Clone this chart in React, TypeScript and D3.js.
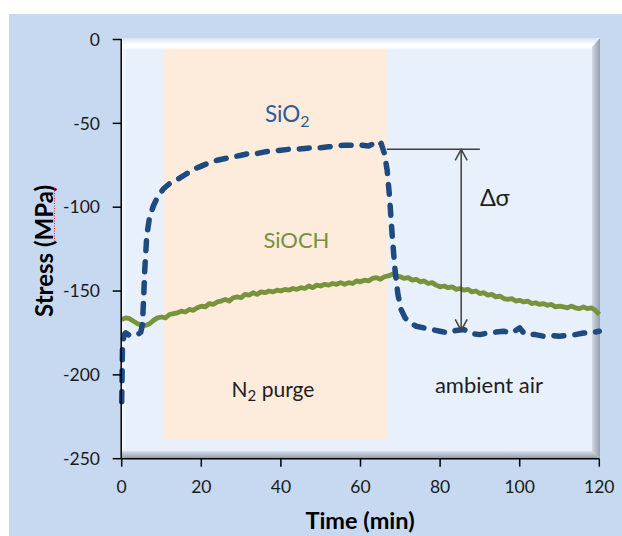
import React from "react";
import * as d3 from "d3";

const X_TICKS = [0, 20, 40, 60, 80, 100, 120];
const Y_TICKS = [0, -50, -100, -150, -200, -250];

// SiO2 (dashed blue): [time (min), stress (MPa)]
const SIO2: [number, number][] = [
  [0, -216], [0.2, -182], [0.6, -176], [1, -175], [2, -176.5], [3, -176.5], [4, -176], [4.8, -174.5],
  [5.2, -170], [5.5, -155], [5.8, -137], [6.3, -117], [7, -106], [8, -99], [9, -94], [10.5, -89],
  [12, -86], [14, -83.5], [16, -80.5], [18, -77.5], [20, -75.5], [22, -73.5], [24, -72], [26, -71],
  [28, -70], [30, -69], [32, -68], [34, -68], [36, -67], [38, -66.5], [40, -66], [42, -65.5],
  [44, -65.5], [46, -65], [48, -64.5], [50, -64.5], [52, -64], [54, -63.5], [56, -63], [58, -63],
  [60, -63], [62, -63.5], [63.4, -62], [64.4, -63.5], [65.2, -62], [66, -68], [66.7, -78], [67.3, -94],
  [68, -118], [68.7, -138], [69.4, -152], [70.2, -161], [71.2, -166], [72.5, -169], [74, -171], [76, -172],
  [78, -173], [80, -174], [82, -175], [84, -173.5], [86, -173], [88, -175.5], [90, -176], [92, -175],
  [94, -174.5], [96, -174], [98, -175], [100, -172], [101, -175], [102, -176], [104, -176], [106, -177],
  [108, -176.5], [110, -177], [112, -176.5], [114, -176], [116, -175], [118, -175], [120, -174],
];

// SiOCH (solid green): [time (min), stress (MPa)]
const SIOCH: [number, number][] = [
  [0, -167], [1, -166], [2, -166.5], [3, -168], [4, -169.5], [5, -170.5], [6, -170.5], [7, -169.5],
  [8, -167.5], [9, -166], [10, -165.5], [11, -166], [12, -164], [13, -163.5], [14, -163], [15, -162],
  [16, -162.5], [17, -161], [18, -161.5], [19, -160], [20, -159], [21, -159.5], [22, -157.5], [23, -158],
  [24, -156.5], [25, -156], [26, -155], [27, -156], [28, -154], [29, -153.5], [30, -154], [31, -152],
  [32, -152.5], [33, -151], [34, -152], [35, -150.5], [36, -151], [37, -150], [38, -150.5], [39, -149.5],
  [40, -150], [41, -149], [42, -149.5], [43, -148.5], [44, -149], [45, -148], [46, -148.5], [47, -147],
  [48, -148], [49, -146.5], [50, -147], [51, -146], [52, -146.5], [53, -145.5], [54, -146], [55, -145],
  [56, -146], [57, -145], [58, -145.5], [59, -144], [60, -144.5], [61, -143.5], [62, -144], [63, -142.5],
  [64, -142], [65, -143], [66, -141.5], [67, -141], [68, -140], [69, -141], [70, -141.5], [71, -142.5],
  [72, -142], [73, -143.5], [74, -143], [75, -144.5], [76, -144], [77, -145.5], [78, -145], [79, -146.5],
  [80, -147.5], [81, -147], [82, -148], [83, -147.5], [84, -149], [85, -148.5], [86, -149.5], [87, -149],
  [88, -150.5], [89, -150], [90, -151.5], [91, -151], [92, -152.5], [93, -152], [94, -153.5], [95, -153],
  [96, -154.5], [97, -155], [98, -154.5], [99, -156], [100, -155.5], [101, -156.5], [102, -156], [103, -157.5],
  [104, -157], [105, -158], [106, -157.5], [107, -158.5], [108, -158], [109, -159.5], [110, -159], [111, -159.5],
  [112, -160], [113, -159], [114, -160], [115, -160.5], [116, -159.5], [117, -160.5], [118, -160], [119, -161.5],
  [120, -164],
];

// N2 purge window (min) and its vertical extent (MPa)
const PURGE_START = 10.5;
const PURGE_END = 66.7;
const PURGE_TOP = 0;
const PURGE_BOTTOM = -239;

// Δσ annotation
const DELTA_TOP = -65.5;
const DELTA_BOTTOM = -173.5;
const DELTA_X = 85.3;
const DELTA_LINE_FROM = 66.6;
const DELTA_LINE_TO = 90;

const FONT = "Lato, 'Open Sans', sans-serif";

export default function App() {
  const W = 622;
  const H = 536;
  const x = d3.scaleLinear().domain([0, 120]).range([121.7, 599.3]);
  const y = d3.scaleLinear().domain([-250, 0]).range([458.7, 39.5]);

  const line = d3
    .line<[number, number]>()
    .x((d) => x(d[0]))
    .y((d) => y(d[1]))
    .curve(d3.curveLinear);

  const pL = 121, pT = 38, pR = 600, pB = 458.7;

  const ax = x(DELTA_X);
  const aT = y(DELTA_TOP);
  const aB = y(DELTA_BOTTOM);

  return (
    <svg
      width={W}
      height={H}
      viewBox={`0 0 ${W} ${H}`}
      style={{ position: "absolute", left: 0, top: 0, display: "block" }}
    >
      <defs>
        <linearGradient id="topBevel" x1="0" y1="0" x2="0" y2="1">
          <stop offset="0" stopColor="#d8e4f5" stopOpacity="1" />
          <stop offset="0.55" stopColor="#ffffff" stopOpacity="1" />
          <stop offset="0.8" stopColor="#ffffff" stopOpacity="0.9" />
          <stop offset="1" stopColor="#ffffff" stopOpacity="0" />
        </linearGradient>
        <linearGradient id="rightBevel" x1="0" y1="0" x2="1" y2="0">
          <stop offset="0" stopColor="#d2dae6" />
          <stop offset="0.5" stopColor="#b3bbc8" />
          <stop offset="1" stopColor="#959eac" />
        </linearGradient>
        <linearGradient id="bottomBevel" x1="0" y1="0" x2="0" y2="1">
          <stop offset="0" stopColor="#dbe3ee" />
          <stop offset="0.5" stopColor="#b5bdc9" />
          <stop offset="1" stopColor="#8e97a5" />
        </linearGradient>
      </defs>

      {/* outer chart background */}
      <rect x={9} y={14} width={W - 9} height={H - 14} fill="#c6d9f1" />

      {/* plot area */}
      <rect x={pL} y={pT} width={pR - pL} height={pB - pT} fill="#e8f0fc" />
      <rect x={pL + 1} y={pT} width={4} height={pB - pT} fill="#f0f5fd" />

      {/* N2 purge band */}
      <rect
        x={x(PURGE_START)}
        y={y(PURGE_TOP)}
        width={x(PURGE_END) - x(PURGE_START)}
        height={y(PURGE_BOTTOM) - y(PURGE_TOP)}
        fill="#fdebdb"
      />

      {/* bevel edges */}
      <rect x={pL} y={pT} width={pR - pL - 4} height={12} fill="url(#topBevel)" />
      <path
        d={`M${pR - 8},${pT + 9} L${pR},${pT} L${pR},${pB} L${pR - 8},${pB - 8} Z`}
        fill="url(#rightBevel)"
      />
      <path
        d={`M${pL},${pB - 8} L${pR - 8},${pB - 8} L${pR},${pB} L${pL},${pB} Z`}
        fill="url(#bottomBevel)"
      />

      {/* series */}
      <path d={line(SIOCH) || ""} fill="none" stroke="#77933c" strokeWidth={4.8} strokeLinejoin="round" />
      <path
        d={line(SIO2) || ""}
        fill="none"
        stroke="#1f4a80"
        strokeWidth={5.5}
        strokeDasharray="10 11"
        strokeLinecap="round"
        strokeLinejoin="round"
      />

      {/* Δσ annotation */}
      <line x1={x(DELTA_LINE_FROM)} x2={x(DELTA_LINE_TO)} y1={aT} y2={aT} stroke="#404040" strokeWidth={1.5} />
      <line x1={ax} x2={ax} y1={aT} y2={aB} stroke="#404040" strokeWidth={1.5} />
      <path d={`M${ax - 6},${aT + 11} L${ax},${aT} L${ax + 6},${aT + 11}`} fill="none" stroke="#404040" strokeWidth={1.5} />
      <path d={`M${ax - 6},${aB - 11} L${ax},${aB} L${ax + 6},${aB - 11}`} fill="none" stroke="#404040" strokeWidth={1.5} />

      {/* axes */}
      <line x1={x(0) - 0.5} x2={x(0) - 0.5} y1={y(0)} y2={y(-250)} stroke="#000" strokeWidth={1.5} />
      <line x1={x(0)} x2={x(120)} y1={y(-250)} y2={y(-250)} stroke="#000" strokeWidth={1.5} />
      {Y_TICKS.map((t) => (
        <g key={"y" + t}>
          <line x1={x(0) - 9} x2={x(0)} y1={y(t)} y2={y(t)} stroke="#000" strokeWidth={1.5} />
          <text
            x={100}
            y={y(t)}
            dy="0.36em"
            textAnchor="end"
            fontFamily={FONT}
            fontSize={17.5}
            fill="#1a1a1a"
          >
            {t}
          </text>
        </g>
      ))}
      {X_TICKS.map((t) => (
        <g key={"x" + t}>
          <line x1={x(t)} x2={x(t)} y1={y(-250)} y2={y(-250) + 8} stroke="#000" strokeWidth={1.5} />
          <text
            x={x(t)}
            y={492.7}
            textAnchor="middle"
            fontFamily={FONT}
            fontSize={17.5}
            fill="#1a1a1a"
          >
            {t}
          </text>
        </g>
      ))}

      {/* axis titles */}
      <text
        transform={`translate(53,251) rotate(-90)`}
        textAnchor="middle"
        fontFamily={FONT}
        fontWeight="bold"
        fontSize={24}
        fill="#000"
      >
        Stress (MPa)
      </text>
      <line x1={54.5} x2={54.5} y1={188} y2={242} stroke="#e02020" strokeWidth={1} strokeDasharray="1 1.5" />
      <text x={360} y={529} textAnchor="middle" fontFamily={FONT} fontWeight="bold" fontSize={23.5} fill="#000">
        Time (min)
      </text>

      {/* labels */}
      <text x={x(36)} y={y(-49)} fontFamily={FONT} fontSize={22.5} fill="#2e5c9a">
        SiO<tspan fontSize={16} dy={5}>2</tspan>
      </text>
      <text x={x(35.6)} y={y(-124.6)} fontFamily={FONT} fontSize={22} fill="#76923c">
        SiOCH
      </text>
      <text x={x(27.6)} y={y(-213.1)} fontFamily={FONT} fontSize={21} fill="#1e1e1e">
        N<tspan fontSize={15} dy={4}>2</tspan>
        <tspan dy={-4}> purge</tspan>
      </text>
      <text x={x(78.7)} y={y(-210.7)} fontFamily={FONT} fontSize={22} fill="#1e1e1e">
        ambient air
      </text>
      <text x={x(90)} y={y(-99.2)} fontFamily={FONT} fontSize={23.5} fill="#1e1e1e">
        Δσ
      </text>
    </svg>
  );
}
